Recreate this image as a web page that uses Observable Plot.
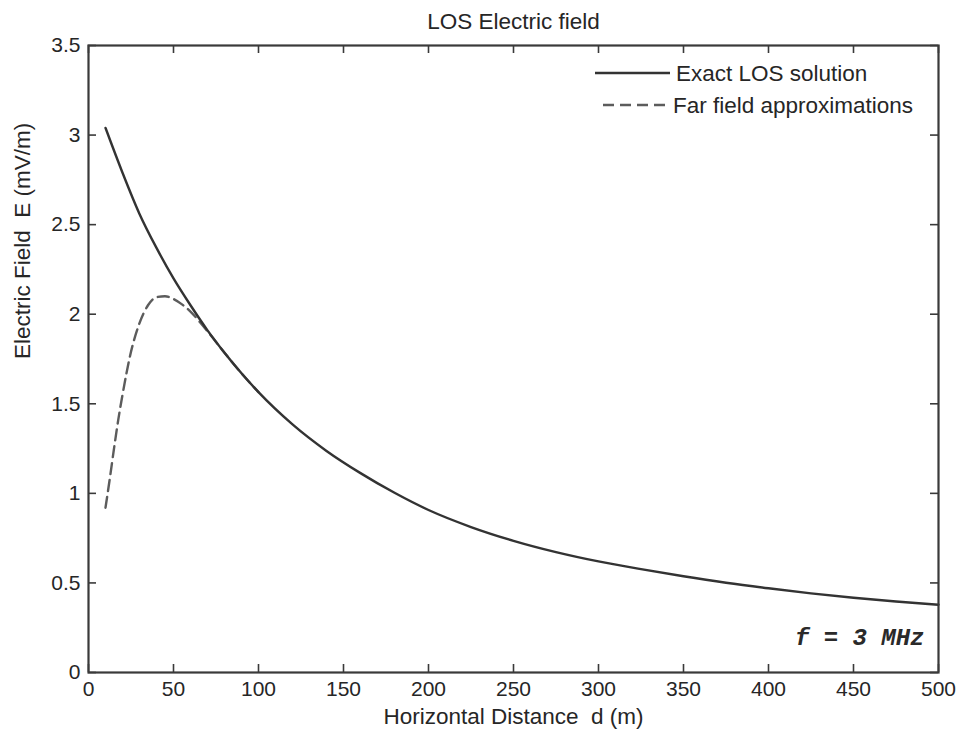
<!DOCTYPE html>
<html>
<head>
<meta charset="utf-8">
<script src="https://cdn.jsdelivr.net/npm/d3@7"></script>
<script src="https://cdn.jsdelivr.net/npm/@observablehq/plot@0.6"></script>
<style>
  body { margin: 0; background: #fff; }
  #chart { position: relative; width: 960px; height: 729px; }
  #legend { position: absolute; left: 0; top: 0; pointer-events: none; }
</style>
</head>
<body>
<div id="chart"></div>
<script>
// Exact line-of-sight field versus horizontal distance (m → mV/m)
const exactDistance = [10, 20, 30, 40, 50, 60, 70, 80, 90, 100, 120, 140, 160, 180, 200,
  225, 250, 275, 300, 325, 350, 375, 400, 425, 450, 475, 500];
const exactField = [3.04, 2.79, 2.56, 2.37, 2.20, 2.05, 1.91, 1.785, 1.67, 1.565, 1.385, 1.237, 1.113, 1.003, 0.907,
  0.812, 0.735, 0.672, 0.62, 0.577, 0.537, 0.501, 0.47, 0.442, 0.417, 0.396, 0.378];

// Far-field approximation, which joins the exact curve beyond ~70 m
const farDistance = [10, 12.5, 15, 17.5, 20, 25, 30, 35, 40, 45, 50, 55, 60, 65, 70, 80, 90, 100];
const farField = [0.92, 1.08, 1.25, 1.41, 1.55, 1.79, 1.95, 2.05, 2.095, 2.10, 2.085, 2.055, 2.015, 1.962, 1.905, 1.785, 1.67, 1.565];

const xTicks = [0, 50, 100, 150, 200, 250, 300, 350, 400, 450, 500];
const yTicks = [0, 0.5, 1, 1.5, 2, 2.5, 3, 3.5];

const seriesNames = ["Exact LOS solution", "Far field approximations"];
const titleText = "LOS Electric field";
const xLabel = "Horizontal Distance\u00a0 d (m)";
const yLabel = "Electric Field\u00a0 E (mV/m)";
const freqNote = "f = 3 MHz";

// Layout
const W = 960, H = 729;
const mL = 88, mR = 22, mT = 45, mB = 57;
const frameW = W - mL - mR, frameH = H - mT - mB;
const TICK = 8;
const axisColor = "#3a3a3a";
const textColor = "#262626";
const solidColor = "#333";
const dashColor = "#5c5c5c";
const dash = "11,6";
const sansFont = "'Liberation Sans', Arial, Helvetica, sans-serif";

const exactRows = exactDistance.map((d, i) => ({d, e: exactField[i]}));
const farRows = farDistance.map((d, i) => ({d, e: farField[i]}));

const chart = Plot.plot({
  width: W,
  height: H,
  marginLeft: mL,
  marginRight: mR,
  marginTop: mT,
  marginBottom: mB,
  style: {background: "#fff", fontFamily: sansFont, fontSize: "21px", color: textColor},
  x: {domain: [0, 500]},
  y: {domain: [0, 3.5]},
  marks: [
    // inward ticks on all four sides
    Plot.tickX(xTicks, {x: d => d, insetTop: frameH - TICK, stroke: axisColor, strokeWidth: 1.6}),
    Plot.tickX(xTicks, {x: d => d, insetBottom: frameH - TICK, stroke: axisColor, strokeWidth: 1.6}),
    Plot.tickY(yTicks, {y: d => d, insetRight: frameW - TICK, stroke: axisColor, strokeWidth: 1.6}),
    Plot.tickY(yTicks, {y: d => d, insetLeft: frameW - TICK, stroke: axisColor, strokeWidth: 1.6}),
    Plot.axisX({ticks: xTicks, tickSize: 0, tickPadding: 9, tickFormat: d => String(d),
      label: null, fontSize: 21, fill: textColor}),
    Plot.axisY({ticks: yTicks, tickSize: 0, tickPadding: 8, tickFormat: d => String(d),
      label: null, fontSize: 21, fill: textColor}),
    Plot.line(farRows, {x: "d", y: "e", stroke: dashColor, strokeWidth: 2.4,
      strokeDasharray: dash, curve: "monotone-x"}),
    Plot.line(exactRows, {x: "d", y: "e", stroke: solidColor, strokeWidth: 2.4, curve: "monotone-x"}),
    Plot.frame({stroke: axisColor, strokeWidth: 2.2}),
    // title and axis labels
    Plot.text([titleText], {text: d => d, frameAnchor: "top", dy: -24, lineAnchor: "middle",
      fontSize: 22.5, fill: textColor}),
    Plot.text([xLabel], {text: d => d, frameAnchor: "bottom", dy: 44, lineAnchor: "middle",
      fontSize: 22.5, fill: textColor}),
    Plot.text([yLabel], {text: d => d, frameAnchor: "left", dx: -66, rotate: -90, lineAnchor: "middle",
      fontSize: 22.5, fill: textColor}),
    // frequency annotation
    Plot.text([freqNote], {text: d => d, frameAnchor: "bottom-right", dx: -14, dy: -35,
      textAnchor: "end", lineAnchor: "middle", fontSize: 24, fontWeight: "bold", fontStyle: "italic",
      fontFamily: "'Liberation Mono', 'DejaVu Sans Mono', monospace", fill: "#2a2a2a"})
  ]
});

const host = document.getElementById("chart");
host.appendChild(chart);

// Legend drawn over the upper-right corner of the axes
const legend = d3.select(host).append("svg")
  .attr("id", "legend")
  .attr("width", W)
  .attr("height", H);

const legendItems = [
  {name: seriesNames[0], x1: 595, x2: 670, tx: 676, y: 73, stroke: solidColor, dash: null},
  {name: seriesNames[1], x1: 603, x2: 670, tx: 673, y: 105, stroke: dashColor, dash: dash}
];

const g = legend.selectAll("g").data(legendItems).join("g");
g.append("line")
  .attr("x1", d => d.x1).attr("x2", d => d.x2)
  .attr("y1", d => d.y).attr("y2", d => d.y)
  .attr("stroke", d => d.stroke)
  .attr("stroke-width", 2.4)
  .attr("stroke-dasharray", d => d.dash);
g.append("text")
  .attr("x", d => d.tx).attr("y", d => d.y)
  .attr("dy", "0.35em")
  .attr("font-family", sansFont)
  .attr("font-size", 22.5)
  .attr("fill", textColor)
  .text(d => d.name);
</script>
</body>
</html>
